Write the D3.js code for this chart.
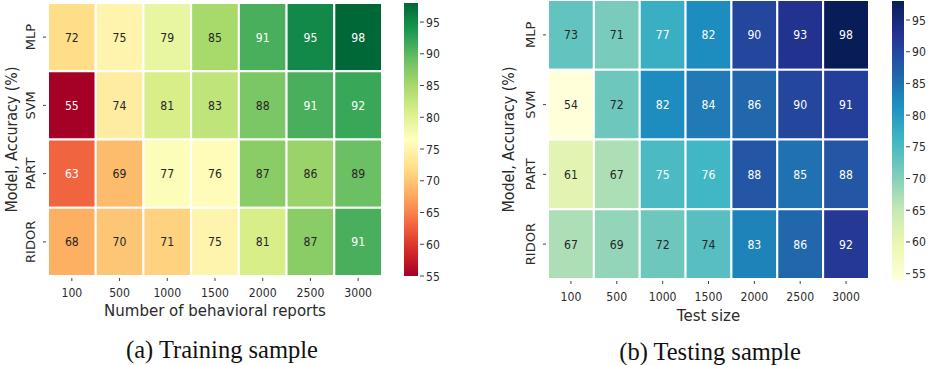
<!DOCTYPE html>
<html><head><meta charset="utf-8">
<script src="https://cdn.jsdelivr.net/npm/d3@7"></script>
<style>body{margin:0;background:#fff}svg{display:block}</style>
</head><body>
<svg id="c" width="930" height="365"></svg>
<script>
const models = ["MLP","SVM","PART","RIDOR"];
const sizes = ["100","500","1000","1500","2000","2500","3000"];
const trainValues = [
  [72,75,79,85,91,95,98],
  [55,74,81,83,88,91,92],
  [63,69,77,76,87,86,89],
  [68,70,71,75,81,87,91]
];
const testValues = [
  [73,71,77,82,90,93,98],
  [54,72,82,84,86,90,91],
  [61,67,75,76,88,85,88],
  [67,69,72,74,83,86,92]
];
const cbTicks = [55,60,65,70,75,80,85,90,95];
const rdYlGnStops = ["#a50026","#d73027","#f46d43","#fdae61","#fee08b","#ffffbf","#d9ef8b","#a6d96a","#66bd63","#1a9850","#006837"];
const ylGnBuStops = ["#ffffd9","#edf8b1","#c7e9b4","#7fcdbb","#41b6c4","#1d91c0","#225ea8","#253494","#081d58"];
const yTitle = "Model, Accuracy (%)";
const trainXTitle = "Number of behavioral reports";
const testXTitle = "Test size";
const trainCaption = "(a) Training sample";
const testCaption = "(b) Testing sample";

const svg = d3.select("#c");
const SANS = "'DejaVu Sans', sans-serif";
const SX = 0.84;

function segmented(stops){
  const s = d3.scaleLinear().domain(stops.map((_,i)=>i/(stops.length-1))).range(stops)
    .interpolate(d3.interpolateRgb).clamp(true);
  return t => s(t);
}
function lum(c){
  const col = d3.rgb(c);
  const f = v => { v/=255; return v<=0.03928 ? v/12.92 : Math.pow((v+0.055)/1.055,2.4); };
  return 0.2126*f(col.r)+0.7152*f(col.g)+0.0722*f(col.b);
}
function txt(g, x, y, s, opts){
  const rot = opts.rot||0, sx = opts.sx==null?SX:opts.sx;
  return g.append("text")
    .attr("transform", `translate(${x},${y}) rotate(${rot}) scale(${sx},1)`)
    .attr("text-anchor", opts.anchor||"middle")
    .attr("font-family", opts.font||SANS)
    .attr("font-size", opts.size||12)
    .attr("fill", opts.fill||"#262626")
    .text(s);
}

function heatmap(cfg){
  const g = svg.append("g");
  const x = d3.scaleBand().domain(sizes).range([cfg.x0,cfg.x1]);
  const y = d3.scaleBand().domain(models).range([cfg.y0,cfg.y1]);
  const color = d3.scaleSequential(cfg.interp).domain([cfg.vmin,cfg.vmax]);
  const cells = [];
  cfg.values.forEach((row,i)=>row.forEach((v,j)=>cells.push({m:models[i],s:sizes[j],v})));
  g.selectAll("rect.cell").data(cells).join("rect")
    .attr("x",d=>x(d.s)).attr("y",d=>y(d.m))
    .attr("width",x.bandwidth()).attr("height",y.bandwidth())
    .attr("fill",d=>color(d.v)).attr("stroke","#fff").attr("stroke-width",2);
  cells.forEach(d=>{
    const c = color(d.v);
    txt(g, x(d.s)+x.bandwidth()/2, y(d.m)+y.bandwidth()/2+4.5, String(d.v),
      {size:13, fill: lum(c) < 0.408 ? "#ffffff" : "#262626"});
  });
  sizes.forEach(s=>{
    const cx = x(s)+x.bandwidth()/2;
    g.append("line").attr("x1",cx).attr("x2",cx).attr("y1",cfg.y1+2).attr("y2",cfg.y1+5)
      .attr("stroke","#444").attr("stroke-width",1);
    txt(g, cx, cfg.xLabY, s, {size:13, fill:"#2a2a2a"});
  });
  models.forEach(m=>{
    const cy = y(m)+y.bandwidth()/2;
    g.append("line").attr("x1",cfg.x0-5).attr("x2",cfg.x0-2).attr("y1",cy).attr("y2",cy)
      .attr("stroke","#444").attr("stroke-width",1);
    txt(g, cfg.yLabX, cy, m, {size:13, fill:"#2a2a2a", rot:-90, sx:1});
  });
  txt(g, (cfg.x0+cfg.x1)/2, cfg.xTitleY, cfg.xTitle, {size:15, fill:"#2a2a2a", sx:1});
  txt(g, cfg.yTitleX, (cfg.y0+cfg.y1)/2, yTitle, {size:15, fill:"#2a2a2a", rot:-90, sx:0.95});
  txt(g, cfg.capX, cfg.capY, cfg.caption, {size:24.5, fill:"#111", sx:1, font:"'Liberation Serif','Times New Roman',serif"});

  const cb = d3.scaleLinear().domain([cfg.vmin,cfg.vmax]).range([cfg.cbY1,cfg.cbY0]);
  const gid = cfg.id+"grad";
  const grad = svg.append("defs").append("linearGradient").attr("id",gid)
    .attr("x1",0).attr("x2",0).attr("y1",1).attr("y2",0);
  d3.range(0,1.0001,0.025).forEach(t=>grad.append("stop").attr("offset",t)
    .attr("stop-color",color(cfg.vmin+t*(cfg.vmax-cfg.vmin))));
  g.append("rect").attr("x",cfg.cbX).attr("y",cfg.cbY0).attr("width",cfg.cbW)
    .attr("height",cfg.cbY1-cfg.cbY0).attr("fill",`url(#${gid})`);
  cbTicks.filter(t=>t>=cfg.vmin && t<=cfg.vmax).forEach(t=>{
    const ty = cb(t);
    g.append("line").attr("x1",cfg.cbX+cfg.cbW+2).attr("x2",cfg.cbX+cfg.cbW+6)
      .attr("y1",ty).attr("y2",ty).attr("stroke","#444");
    txt(g, cfg.cbX+cfg.cbW+8, ty+4.5, String(t), {size:13, fill:"#2a2a2a", anchor:"start"});
  });
}

heatmap({id:"a", values:trainValues, interp:segmented(rdYlGnStops), vmin:55, vmax:98,
  x0:48, x1:382, y0:3, y1:276, xLabY:297, xTitleY:316, yLabX:35, yTitleX:17,
  xTitle:trainXTitle, caption:trainCaption, capX:222, capY:358,
  cbX:404, cbW:14, cbY0:3, cbY1:276});
heatmap({id:"b", values:testValues, interp:segmented(ylGnBuStops), vmin:54, vmax:98,
  x0:548, x1:869, y0:0, y1:279, xLabY:301, xTitleY:321, yLabX:535, yTitleX:514,
  xTitle:testXTitle, caption:testCaption, capX:710, capY:360,
  cbX:892, cbW:12, cbY0:1, cbY1:280});
</script>
</body></html>
